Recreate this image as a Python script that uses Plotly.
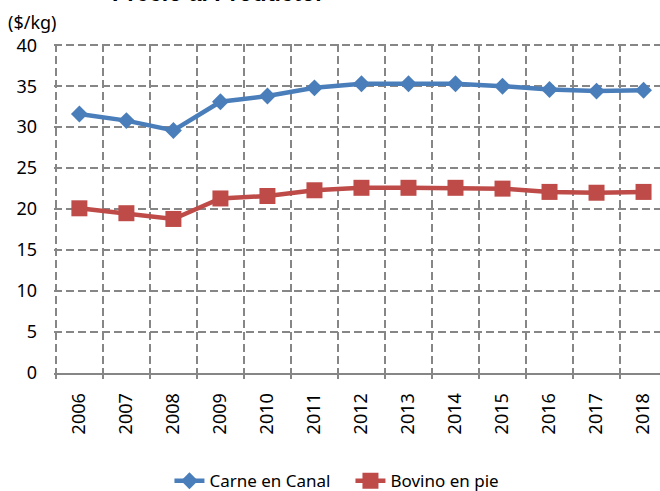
import plotly.graph_objects as go

# Producer prices, $/kg
years = ["2006", "2007", "2008", "2009", "2010", "2011", "2012",
         "2013", "2014", "2015", "2016", "2017", "2018"]
carne_en_canal = [31.6, 30.8, 29.6, 33.1, 33.8, 34.8, 35.3,
                  35.3, 35.3, 35.0, 34.6, 34.4, 34.5]
bovino_en_pie = [20.1, 19.5, 18.8, 21.3, 21.6, 22.3, 22.6,
                 22.6, 22.6, 22.5, 22.1, 22.0, 22.1]
y_ticks = [0, 5, 10, 15, 20, 25, 30, 35, 40]

BLUE = "#4A7EBB"
RED = "#BE4B48"
GRID = "#868686"
FONT = "Noto Sans"

fig = go.Figure()
fig.add_trace(go.Scatter(
    x=years, y=carne_en_canal, name="Carne en Canal", mode="lines+markers",
    line=dict(color=BLUE, width=4.5),
    marker=dict(symbol="diamond", size=13, color=BLUE),
))
fig.add_trace(go.Scatter(
    x=years, y=bovino_en_pie, name="Bovino en pie", mode="lines+markers",
    line=dict(color=RED, width=4.5),
    marker=dict(symbol="square", size=16, color=RED),
))

fig.update_layout(
    width=660, height=491,
    margin=dict(l=54, r=0, t=44, b=118),
    paper_bgcolor="white", plot_bgcolor="white",
    font=dict(family=FONT, color="black"),
    showlegend=True,
    legend=dict(
        orientation="h", xref="container", yref="container",
        x=0.531, xanchor="center", y=0.02, yanchor="middle",
        font=dict(size=17, family=FONT), traceorder="normal",
        entrywidth=136,
    ),
    annotations=[
        dict(text="<b>Precio al Productor</b>", xref="paper", yref="paper",
             x=0.27, y=1, xanchor="center", yanchor="bottom", yshift=36,
             showarrow=False, font=dict(size=23, family="Liberation Sans")),
        dict(text="($/kg)", xref="paper", yref="paper",
             x=0, y=1, xanchor="left", yanchor="middle", xshift=-48, yshift=22,
             showarrow=False, font=dict(size=18, family=FONT)),
    ],
)

fig.update_xaxes(
    type="category", tickson="boundaries", range=[-0.54, 12.35],
    showgrid=True, gridcolor=GRID, gridwidth=2, griddash="8px,4px",
    showline=True, linecolor=GRID, linewidth=2,
    ticks="outside", ticklen=4, tickwidth=2, tickcolor=GRID,
    tickangle=-90, tickfont=dict(size=18, family=FONT),
    ticklabelstandoff=11, zeroline=False,
)
fig.update_yaxes(
    range=[0, 40.15], tickvals=y_ticks,
    showgrid=True, gridcolor=GRID, gridwidth=2, griddash="8px,4px",
    showline=False, zeroline=False, ticks="",
    tickfont=dict(size=18, family=FONT), ticklabelstandoff=16,
)

fig.write_html("out.html")
